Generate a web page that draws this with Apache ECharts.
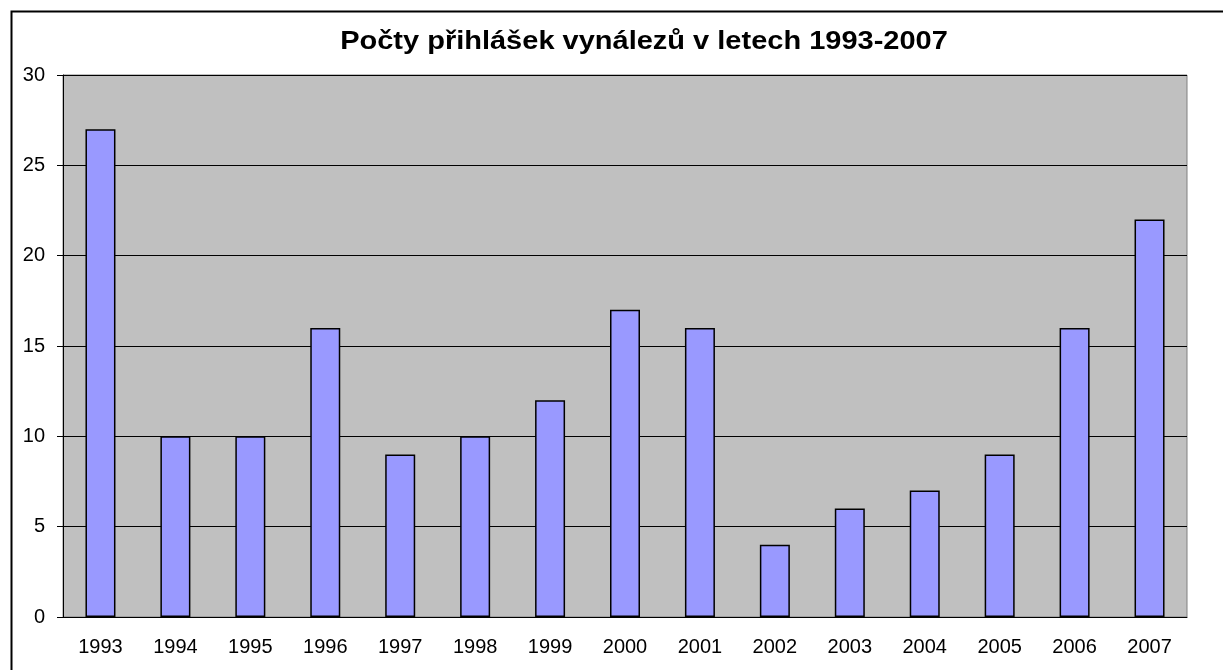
<!DOCTYPE html>
<html><head><meta charset="utf-8">
<script src="https://cdn.jsdelivr.net/npm/echarts@6/dist/echarts.min.js"></script>
<style>html,body{margin:0;padding:0;background:#fff}#c{width:1223px;height:670px}</style>
</head><body><div id="c"></div>
<script>
const titleText = 'Počty přihlášek vynálezů v letech 1993-2007';
const categories = ['1993','1994','1995','1996','1997','1998','1999','2000','2001','2002','2003','2004','2005','2006','2007'];
const values = [27,10,10,16,9,10,12,17,16,4,6,7,9,16,22];
const chart = echarts.init(document.getElementById('c'), null, {renderer:'canvas'});
chart.setOption({
  animation:false,
  backgroundColor:'#fff',
  graphic:[
    {type:'rect', shape:{x:11.5,y:11.5,width:1300,height:700}, style:{fill:'none', stroke:'#000', lineWidth:2}, z:-1},
    {type:'text', x:644, y:42, scaleX:1.16, z:10,
      style:{text:titleText, x:0, y:0, align:'center', verticalAlign:'middle',
        font:'bold 25px "Liberation Sans", Arial', fill:'#000'}}
  ],
  grid:{left:63, top:75, width:1124, height:542, show:true, backgroundColor:'#C0C0C0', borderColor:'#808080', borderWidth:1},
  xAxis:{type:'category', data:categories,
    axisLine:{lineStyle:{color:'#000', width:1}}, axisTick:{show:false},
    axisLabel:{color:'#000', fontFamily:'Liberation Sans, Arial', fontSize:20, margin:20}},
  yAxis:{type:'value', min:0, max:30, interval:5,
    axisLine:{show:true, lineStyle:{color:'#000'}},
    axisTick:{show:true, length:6, lineStyle:{color:'#000'}},
    splitLine:{lineStyle:{color:'#000', width:1}},
    axisLabel:{color:'#000', fontFamily:'Liberation Sans, Arial', fontSize:20, margin:18}},
  series:[{type:'bar', data:values, barWidth:30,
    itemStyle:{color:'#9999FF', borderColor:'#000', borderWidth:1.5}}]
});
</script></body></html>
